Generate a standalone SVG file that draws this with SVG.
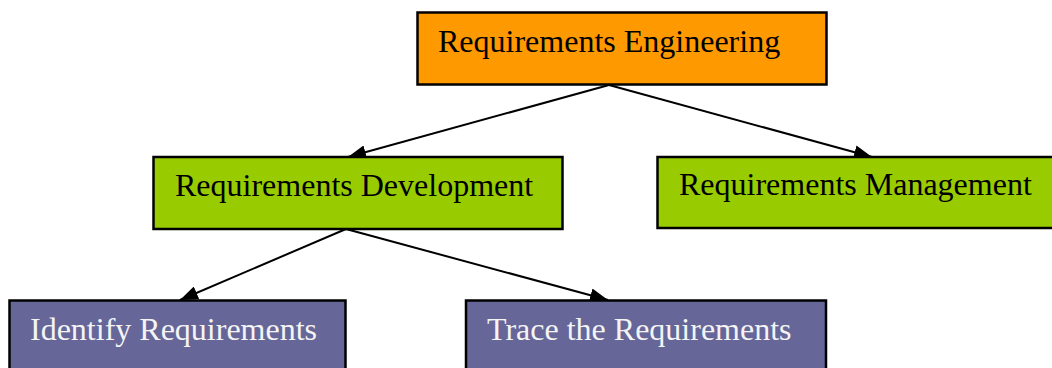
<svg xmlns="http://www.w3.org/2000/svg" width="1052" height="368" viewBox="0 0 1052 368">
  <style>
    .box { stroke: #000; stroke-width: 2.5; }
    .eng { fill: #FF9900; }
    .sub { fill: #99CC00; }
    .task { fill: #666699; }
    .lbl { font-family: "Liberation Serif", "Times New Roman", serif; font-size: 32px; fill: #000; }
    .lbl.light { fill: #F4F4F4; }
    .edge { stroke: #000; stroke-width: 2; fill: none; marker-end: url(#arrow); }
  </style>
  <defs>
    <marker id="arrow" markerUnits="userSpaceOnUse" markerWidth="20" markerHeight="14" refX="18" refY="7" orient="auto">
      <path d="M0,0 L18,7 L0,14 Z" fill="#000"/>
    </marker>
  </defs>
  <rect width="1052" height="368" fill="#fff"/>

  <g id="connectors">
    <line class="edge" x1="609" y1="85" x2="348" y2="157"/>
    <line class="edge" x1="609" y1="85" x2="872" y2="157"/>
    <line class="edge" x1="346" y1="229" x2="180" y2="300"/>
    <line class="edge" x1="346" y1="229" x2="608" y2="300"/>
  </g>

  <g id="requirements-engineering">
    <rect class="box eng" x="417.5" y="12.5" width="409" height="72"/>
    <text class="lbl" x="438" y="52">Requirements Engineering</text>
  </g>

  <g id="requirements-development">
    <rect class="box sub" x="153.5" y="157" width="409" height="72"/>
    <text class="lbl" x="175" y="196">Requirements Development</text>
  </g>

  <g id="requirements-management">
    <rect class="box sub" x="657.5" y="157" width="409" height="71"/>
    <text class="lbl" x="679" y="195">Requirements Management</text>
  </g>

  <g id="identify-requirements">
    <rect class="box task" x="9.5" y="300.5" width="336" height="80"/>
    <text class="lbl light" x="30" y="340">Identify Requirements</text>
  </g>

  <g id="trace-requirements">
    <rect class="box task" x="466" y="300.5" width="360" height="80"/>
    <text class="lbl light" x="487" y="340">Trace the Requirements</text>
  </g>
</svg>
